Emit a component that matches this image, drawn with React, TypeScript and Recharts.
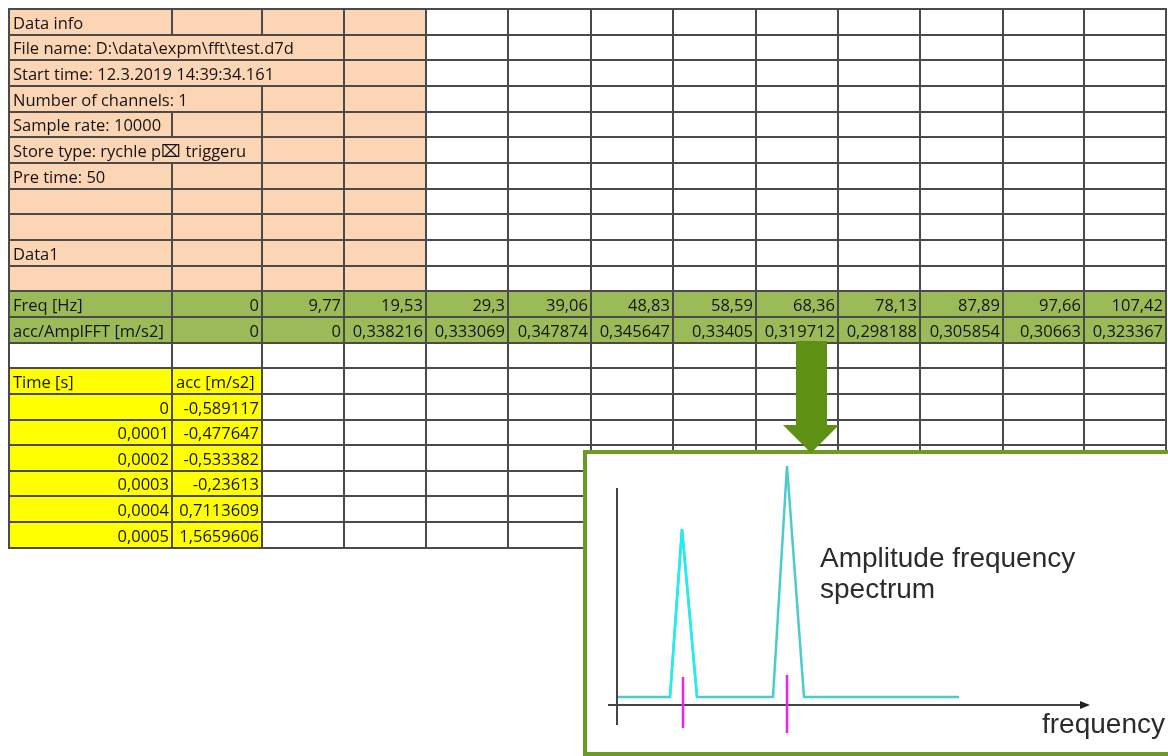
import { LineChart, Line, XAxis, YAxis, ReferenceLine } from 'recharts';

// spreadsheet content
const infoRows = [
  'Data info',
  'File name: D:\\data\\expm\\fft\\test.d7d',
  'Start time: 12.3.2019 14:39:34.161',
  'Number of channels: 1',
  'Sample rate: 10000',
  'Store type: rychle p\u2327 triggeru',
  'Pre time: 50',
  '',
  '',
  'Data1',
  '',
];
// how many columns the text overflows into
const infoSpans = [1, 3, 3, 2, 1, 2, 1, 1, 1, 1, 1];
const freqHz = [0, 9.77, 19.53, 29.3, 39.06, 48.83, 58.59, 68.36, 78.13, 87.89, 97.66, 107.42];
const amplFFT = [0, 0, 0.338216, 0.333069, 0.347874, 0.345647, 0.33405, 0.319712, 0.298188, 0.305854, 0.30663, 0.323367];
const timeS = [0, 0.0001, 0.0002, 0.0003, 0.0004, 0.0005];
const accMs2 = [-0.589117, -0.477647, -0.533382, -0.23613, 0.7113609, 1.5659606];

// sketch of the spectrum (arbitrary units)
const specFreq = [1, 53, 65, 80, 156, 170, 187, 342];
const specAmpl = [8, 8, 176, 8, 8, 239, 8, 8];
const firstPeak = [1, 2, 3]; // indices drawn in the brighter cyan
const peakMarks = [
  { f: 66, lo: -23, hi: 28 },
  { f: 170, lo: -28, hi: 30 },
];

const colWidths = [163, 90, 82, 82, 82, 83, 82, 83, 82, 82, 83, 81, 82];
const ROW_H = 25.67;
const PEACH = '#fcd5b4';
const GREEN = '#9bbb59';
const YELLOW = '#ffff00';
const LINE = '2px solid #4a4a4a';

const fmt = (v: number) => String(v).replace('.', ',');

const specData = specFreq.map((f, i) => ({
  f,
  amp: specAmpl[i],
  amp1: firstPeak.includes(i) ? specAmpl[i] : null,
}));

function Cell({ text = '', bg = '#fff', align = 'left', span = 1 }: any) {
  return (
    <td
      colSpan={span}
      style={{
        background: bg,
        border: LINE,
        padding: '0 2px 1px 3px',
        textAlign: align,
        whiteSpace: 'nowrap',
        overflow: 'visible',
        verticalAlign: 'bottom',
        lineHeight: '21px',
      }}
    >
      {text}
    </td>
  );
}

function Sheet() {
  const n = colWidths.length;
  const rows: any[] = [];
  infoRows.forEach((t, r) => {
    const span = infoSpans[r];
    const cells = [<Cell key="a" text={t} bg={PEACH} span={span} />];
    for (let c = span; c < n; c++) cells.push(<Cell key={c} bg={c < 4 ? PEACH : '#fff'} />);
    rows.push(cells);
  });
  rows.push([
    <Cell key="a" text="Freq [Hz]" bg={GREEN} />,
    ...freqHz.map((v, i) => <Cell key={i} text={fmt(v)} bg={GREEN} align="right" />),
  ]);
  rows.push([
    <Cell key="a" text="acc/AmplFFT [m/s2]" bg={GREEN} />,
    ...amplFFT.map((v, i) => <Cell key={i} text={fmt(v)} bg={GREEN} align="right" />),
  ]);
  rows.push(colWidths.map((_, i) => <Cell key={i} />));
  rows.push([
    <Cell key="a" text="Time [s]" bg={YELLOW} />,
    <Cell key="b" text="acc [m/s2]" bg={YELLOW} />,
    ...colWidths.slice(2).map((_, i) => <Cell key={i} />),
  ]);
  timeS.forEach((t, r) => {
    rows.push([
      <Cell key="a" text={fmt(t)} bg={YELLOW} align="right" />,
      <Cell key="b" text={fmt(accMs2[r])} bg={YELLOW} align="right" />,
      ...colWidths.slice(2).map((_, i) => <Cell key={i} />),
    ]);
  });

  return (
    <table
      style={{
        position: 'absolute',
        left: 0,
        top: 0,
        borderCollapse: 'collapse',
        tableLayout: 'fixed',
        width: colWidths.reduce((a, b) => a + b, 0),
        fontFamily: '"Open Sans", sans-serif',
        fontSize: 16.5,
        color: '#141414',
      }}
    >
      <colgroup>
        {colWidths.map((w, i) => (
          <col key={i} style={{ width: w }} />
        ))}
      </colgroup>
      <tbody>
        {rows.map((cells, r) => (
          <tr key={r} style={{ height: ROW_H }}>
            {cells}
          </tr>
        ))}
      </tbody>
    </table>
  );
}

const ArrowAxis = (props: any) => {
  const { x1, y1, x2, y2 } = props;
  return (
    <g>
      <line x1={x1} y1={y1} x2={x2 - 6} y2={y2} stroke="#444" strokeWidth={2} />
      <polygon points={`${x2},${y2} ${x2 - 10},${y2 - 4} ${x2 - 10},${y2 + 4}`} fill="#222" />
    </g>
  );
};

function Spectrum() {
  return (
    <LineChart
      width={585}
      height={306}
      data={specData}
      margin={{ top: 16, right: 78, bottom: 23, left: 25 }}
    >
      <XAxis type="number" dataKey="f" domain={[-9, 473]} allowDataOverflow hide />
      <YAxis type="number" domain={[-28, 239]} allowDataOverflow hide />
      <ReferenceLine
        segment={[{ x: 0, y: -20 }, { x: 0, y: 217 }]}
        stroke="#444"
        strokeWidth={2}
        ifOverflow="visible"
      />
      <ReferenceLine
        segment={[{ x: -9, y: 0 }, { x: 473, y: 0 }]}
        ifOverflow="visible"
        shape={ArrowAxis}
      />
      <Line
        dataKey="amp"
        stroke="#4ccbce"
        strokeWidth={2.5}
        dot={false}
        isAnimationActive={false}
        strokeLinejoin="miter"
      />
      <Line
        dataKey="amp1"
        stroke="#22eef0"
        strokeWidth={2.5}
        dot={false}
        isAnimationActive={false}
        connectNulls={false}
      />
      {peakMarks.map((m) => (
        <ReferenceLine
          key={m.f}
          segment={[{ x: m.f, y: m.lo }, { x: m.f, y: m.hi }]}
          stroke="#ee22ee"
          strokeWidth={2.5}
          ifOverflow="visible"
        />
      ))}
    </LineChart>
  );
}

export default function App() {
  return (
    <div
      style={{
        position: 'fixed',
        left: 8,
        top: 8,
        width: 1160,
        height: 748,
        overflow: 'hidden',
      }}
    >
      <Sheet />
      <div
        style={{
          position: 'absolute',
          left: 575,
          top: 442,
          width: 600,
          height: 306,
          boxSizing: 'border-box',
          border: '4px solid #6b9b22',
          background: '#fff',
        }}
      />
      <div style={{ position: 'absolute', left: 575, top: 442 }}>
        <Spectrum />
      </div>
      <div
        style={{
          position: 'absolute',
          left: 812,
          top: 534,
          fontFamily: '"Liberation Sans", Arial, sans-serif',
          fontSize: 28,
          lineHeight: '31px',
          color: '#2b2b2b',
        }}
      >
        Amplitude frequency
        <br />
        spectrum
      </div>
      <div
        style={{
          position: 'absolute',
          left: 1034,
          top: 700,
          fontFamily: '"Liberation Sans", Arial, sans-serif',
          fontSize: 28,
          color: '#2b2b2b',
        }}
      >
        frequency
      </div>
      <svg style={{ position: 'absolute', left: 0, top: 0 }} width={1160} height={748}>
        <polygon
          points="788,333 819,333 819,417 831,417 803,445 775,417 788,417"
          fill="#5e9014"
        />
      </svg>
    </div>
  );
}
